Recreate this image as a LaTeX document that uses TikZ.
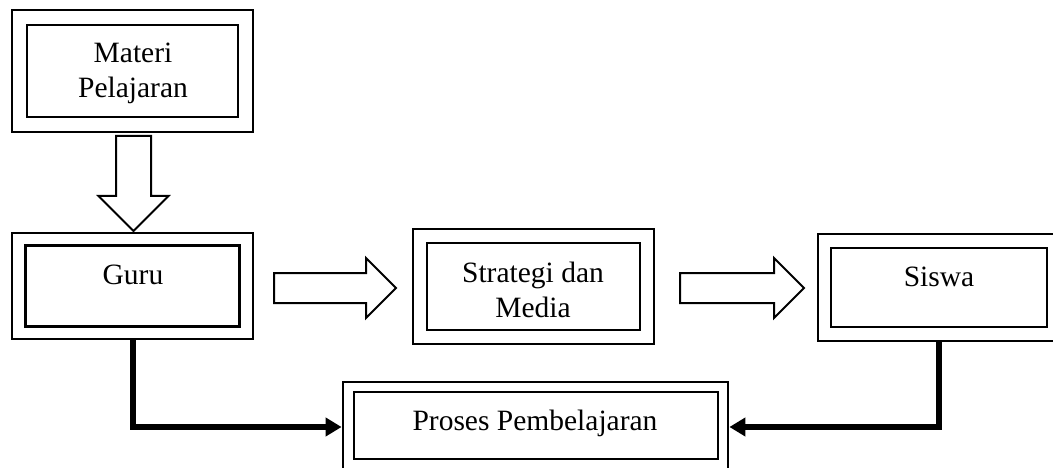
\documentclass[tikz,border=0pt]{standalone}
\usepackage{fontspec}
\setmainfont{Liberation Serif}
\usetikzlibrary{arrows.meta,shapes.arrows}

\begin{document}
\begin{tikzpicture}[x=1pt,y=-1pt,
  box/.style={draw,line width=2.8pt,inner sep=0pt},
  txt/.style={font=\fontsize{29.5}{35}\selectfont,align=center,inner sep=0pt},
  hollow/.style={draw,single arrow,line width=2pt,inner xsep=0pt,inner ysep=14pt,
    single arrow head extend=15pt,single arrow tip angle=90,anchor=tail},
  link/.style={line width=6pt,-{Triangle[length=16pt,width=18pt]}}]
 \useasboundingbox (0,0) rectangle (1053,468);
 \clip (0,0) rectangle (1053,468);

 % outer frames
 \node[box,minimum width=241pt,minimum height=122pt] (materi)  at (132.5,71)  {};
 \node[box,minimum width=241pt,minimum height=106pt] (guru)    at (132.5,286) {};
 \node[box,minimum width=241pt,minimum height=115pt] (media)   at (533.5,286.5) {};
 \node[box,minimum width=242pt,minimum height=107pt] (siswa)   at (939,287.5) {};
 \node[box,minimum width=385pt,minimum height=90pt]  (proses)  at (535.5,427) {};

 % inner frames
 \node[box,minimum width=211pt,minimum height=92pt] (materi-in) at (materi) {};
 \node[box,minimum width=214pt,minimum height=81pt] (guru-in)   at (guru)   {};
 \node[box,minimum width=213pt,minimum height=87pt] (media-in)  at (media)  {};
 \node[box,minimum width=216pt,minimum height=79pt] (siswa-in)  at (siswa)  {};
 \node[box,minimum width=364pt,minimum height=67pt] (proses-in) at (536,425.5) {};

 % labels
 \node[txt] (t-materi) at (133,73.6)  {Materi\\Pelajaran};
 \node[txt] (t-guru)   at (133,275.2) {Guru};
 \node[txt] (t-media)  at (533,289.5) {Strategi dan\\Media};
 \node[txt] (t-siswa)  at (939,277)   {Siswa};
 \node[txt] (t-proses) at (535,423.2) {Proses Pembelajaran};

 % hollow arrows
 \node[hollow,minimum height=95pt,inner ysep=16.5pt,single arrow head extend=17.5pt,
       rotate=-90] (a-down) at (133.5,135) {};
 \node[hollow,minimum height=122pt] (a-media) at (273,288) {};
 \node[hollow,minimum height=124pt] (a-siswa) at (679,288) {};

 % links
 \draw[link] (guru.south)  |- (proses.west);
 \draw[link] (siswa.south) |- (proses.east);
\end{tikzpicture}
\end{document}
